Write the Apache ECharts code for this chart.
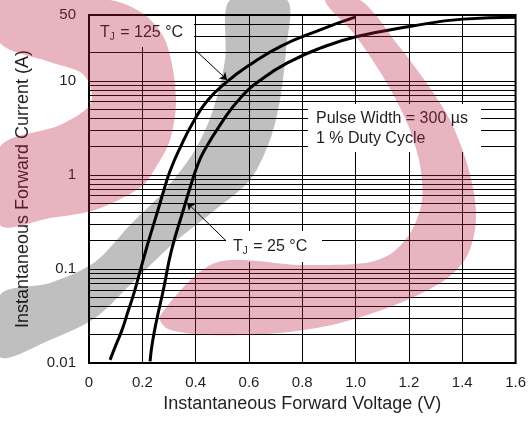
<!DOCTYPE html>
<html>
<head>
<meta charset="utf-8">
<script src="https://cdn.jsdelivr.net/npm/echarts@6/dist/echarts.min.js"></script>
<style>
  html, body { margin: 0; padding: 0; background: #fff; }
  #chart-container { width: 529px; height: 423px; }
</style>
</head>
<body>
<div id="chart-container"></div>
<script>
// forward voltage (V) vs forward current (A)
var tj125 = [
  [0.079, 0.0108], [0.101, 0.0156], [0.124, 0.0225], [0.146, 0.035], [0.169, 0.0557],
  [0.191, 0.093], [0.214, 0.16], [0.236, 0.26], [0.259, 0.425], [0.281, 0.69],
  [0.304, 1.1], [0.342, 1.95], [0.39, 3.6], [0.443, 6.1], [0.518, 9.8],
  [0.604, 14.8], [0.717, 23.1], [0.867, 34.8], [0.998, 47.4]
];
var tj25 = [
  [0.229, 0.0104], [0.2375, 0.0163], [0.254, 0.0288], [0.279, 0.06], [0.31, 0.16],
  [0.354, 0.425], [0.379, 0.73], [0.405, 1.22], [0.432, 1.8], [0.492, 3.4],
  [0.567, 6.53], [0.654, 10.7], [0.754, 16], [0.867, 22.2], [1.005, 29.5],
  [1.203, 37.7], [1.403, 45.2], [1.6, 47.4]
];
// log grid lines (1..9 per decade)
var decades = [0.01, 0.1, 1, 10];
var multipliers = [1, 2, 3, 4, 5, 6, 7, 8, 9];
var yMin = 0.01, yMax = 50;
var xMin = 0, xMax = 1.6, xStep = 0.2;
// arrow endpoints for the two labels, in data units [V, A]
var arrow125 = [[0.398, 21.3], [0.518, 10.2]];
var arrow25 = [[0.518, 0.194], [0.368, 0.504]];

var gridValues = [];
decades.forEach(function (d) {
  multipliers.forEach(function (m) {
    var v = +(d * m).toPrecision(3);
    if (v > yMin && v < yMax) gridValues.push(v);
  });
});

var font = '"Liberation Sans", Arial, Helvetica, sans-serif';
var ink = '#231f20';

var dom = document.getElementById('chart-container');
var myChart = echarts.init(dom, null, { renderer: 'canvas' });

var pink = 'rgba(185,28,64,0.33)';
var grey = 'rgba(0,0,0,0.25)';

var subRich = {
  t: { fontFamily: font, fontSize: 16 },
  s: { fontFamily: font, fontSize: 10, padding: [9, 1, 0, 0] }
};

var option = {
  animation: false,
  backgroundColor: '#fff',
  grid: {
    left: 89, right: 13, top: 15, bottom: 60,
    show: true, borderColor: '#000', borderWidth: 2
  },
  xAxis: {
    type: 'value',
    min: xMin, max: xMax, interval: xStep,
    name: 'Instantaneous Forward Voltage (V)',
    nameLocation: 'middle', nameGap: 32,
    nameTextStyle: { fontFamily: font, fontSize: 18, color: ink },
    axisLine: { lineStyle: { color: '#000', width: 2 } },
    axisTick: { show: false },
    axisLabel: {
      margin: 12, fontFamily: font, fontSize: 15, color: ink,
      formatter: function (v) { return v === 0 ? '0' : v.toFixed(1); }
    },
    splitLine: { show: true, lineStyle: { color: '#000', width: 1 } }
  },
  yAxis: {
    type: 'log', logBase: 10,
    min: yMin, max: yMax,
    name: 'Instantaneous Forward Current (A)',
    nameLocation: 'middle', nameGap: 57, nameRotate: 90,
    nameTextStyle: { fontFamily: font, fontSize: 18, color: ink },
    axisLine: { show: true, lineStyle: { color: '#000', width: 2 } },
    axisTick: { show: false },
    axisLabel: {
      margin: 13, fontFamily: font, fontSize: 15, color: ink,
      formatter: function (v) { return String(parseFloat(v.toPrecision(2))); }
    },
    splitLine: { show: false }
  },
  series: [
    {
      name: 'grid', type: 'line', data: [], silent: true,
      markLine: {
        silent: true, symbol: 'none', animation: false,
        label: { show: false },
        lineStyle: { color: '#000', width: 1, type: 'solid' },
        data: gridValues.map(function (v) { return { yAxis: v }; })
      }
    },
    {
      name: 'TJ = 125 °C', type: 'line', data: tj125,
      smooth: 0.5, showSymbol: false, z: 4,
      lineStyle: { color: '#000', width: 3 },
      markLine: {
        silent: true, symbol: ['none', 'arrow'], symbolSize: 7, animation: false,
        label: { show: false },
        lineStyle: { color: '#000', width: 1, type: 'solid' },
        data: [[{ coord: arrow125[0] }, { coord: arrow125[1] }]]
      }
    },
    {
      name: 'TJ = 25 °C', type: 'line', data: tj25,
      smooth: 0.5, showSymbol: false, z: 4,
      lineStyle: { color: '#000', width: 3 },
      markLine: {
        silent: true, symbol: ['none', 'arrow'], symbolSize: 7, animation: false,
        label: { show: false },
        lineStyle: { color: '#000', width: 1, type: 'solid' },
        data: [[{ coord: arrow25[0] }, { coord: arrow25[1] }]]
      }
    }
  ],
  graphic: [
    // label boxes
    { type: 'rect', z: 50, shape: { x: 90, y: 16, width: 104, height: 31 }, style: { fill: '#fff' } },
    { type: 'text', z: 51, left: 100, top: 25, style: { text: '{t|T}{s|J}{t| = 125 °C}', fill: ink, rich: subRich } },
    { type: 'rect', z: 50, shape: { x: 226, y: 231, width: 96, height: 31 }, style: { fill: '#fff' } },
    { type: 'text', z: 51, left: 233, top: 239, style: { text: '{t|T}{s|J}{t| = 25 °C}', fill: ink, rich: subRich } },
    { type: 'rect', z: 50, shape: { x: 308, y: 104, width: 173, height: 48 }, style: { fill: '#fff' } },
    { type: 'text', z: 51, left: 316, top: 109, style: {
      text: 'Pulse Width = 300 µs\n1 % Duty Cycle', fill: ink,
      font: '16px ' + font, lineHeight: 20
    } },
    // watermark
    { type: 'polygon', z: 100, silent: true, shape: { smooth: 0.3, points: [
      [0, 0], [110, 0], [145, 15], [166, 42], [176, 98], [170, 140], [153, 172], [140, 188],
      [95, 210], [50, 218], [0, 225], [0, 147], [60, 125], [90, 105], [90, 85], [80, 72], [50, 62], [0, 43]
    ] }, style: { fill: pink } },
    { type: 'polygon', z: 100, silent: true, shape: { smooth: 0.3, points: [
      [230, 0], [225, 60], [213, 110], [195, 150], [165, 190], [130, 225], [95, 262], [50, 283], [0, 295],
      [0, 357], [50, 340], [95, 318], [130, 285], [175, 242], [215, 210], [250, 180], [270, 140],
      [280, 100], [286, 50], [287, 0]
    ] }, style: { fill: grey } },
    { type: 'polygon', z: 100, silent: true, shape: { smooth: 0.3, points: [
      [360, 0], [398, 45], [428, 85], [450, 120], [466, 160], [475, 200], [475, 230], [466, 258],
      [445, 280], [400, 303], [340, 323], [280, 333], [210, 335], [168, 329], [160, 316],
      [215, 263], [300, 265], [365, 263], [392, 253], [412, 230], [422, 200], [420, 165],
      [408, 125], [385, 80], [355, 35], [325, 0]
    ] }, style: { fill: pink } }
  ]
};

myChart.setOption(option);
window.addEventListener('resize', myChart.resize);
</script>
</body>
</html>
